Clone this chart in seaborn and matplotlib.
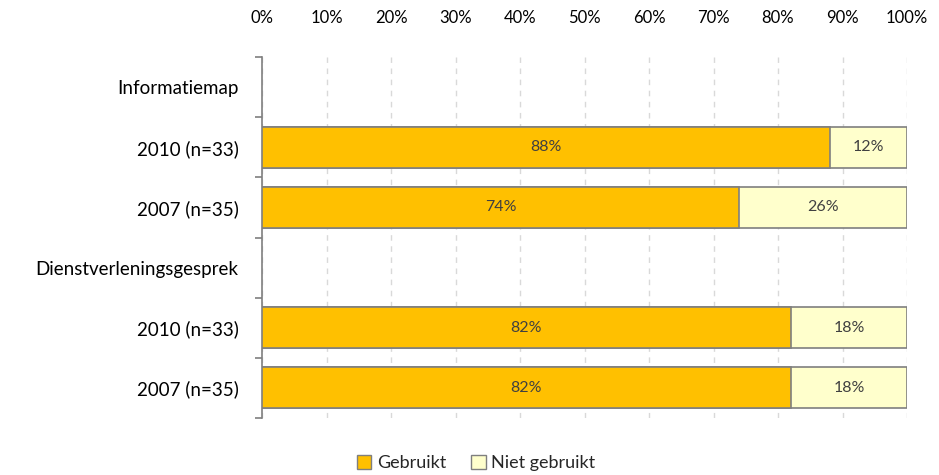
import matplotlib
matplotlib.use("Agg")
import matplotlib.pyplot as plt
import matplotlib.ticker as mticker
from matplotlib.patches import Patch
import numpy as np
import pandas as pd
import seaborn as sns

# data
row_labels = ["Informatiemap", "2010 (n=33)", "2007 (n=35)",
              "Dienstverleningsgesprek", "2010 (n=33)", "2007 (n=35)"]
gebruikt = [np.nan, 88, 74, np.nan, 82, 82]
niet_gebruikt = [np.nan, 12, 26, np.nan, 18, 18]
series_names = ["Gebruikt", "Niet gebruikt"]
x_ticks = [0, 10, 20, 30, 40, 50, 60, 70, 80, 90, 100]

colors = {"Gebruikt": "#FFC000", "Niet gebruikt": "#FFFFCC"}
edge = "#7f7f7f"

sns.set_theme(style="white")
plt.rcParams["font.family"] = ["Lato", "DejaVu Sans"]

# unique keys so repeated labels stay separate rows
keys = [f"r{i}" for i in range(len(row_labels))]
df = pd.DataFrame({"key": keys, "Gebruikt": gebruikt, "Niet gebruikt": niet_gebruikt})
df["total"] = df["Gebruikt"] + df["Niet gebruikt"]

fig = plt.figure(figsize=(9.39, 4.75), dpi=100)
ax = fig.add_axes([262 / 939, 1 - 418 / 475, (907 - 262) / 939, (418 - 57) / 475])

sns.barplot(data=df, y="key", x="total", order=keys, orient="h", color=colors["Niet gebruikt"],
            width=0.68, edgecolor=edge, linewidth=1.2, saturation=1, ax=ax, zorder=3)
sns.barplot(data=df, y="key", x="Gebruikt", order=keys, orient="h", color=colors["Gebruikt"],
            width=0.68, edgecolor=edge, linewidth=1.2, saturation=1, ax=ax, zorder=4)

# value labels
for i, (g, n) in enumerate(zip(gebruikt, niet_gebruikt)):
    if np.isnan(g):
        continue
    ax.text(g / 2, i, f"{g:.0f}%", ha="center", va="center", fontsize=11.5, color="#404040", zorder=5)
    ax.text(g + n / 2, i, f"{n:.0f}%", ha="center", va="center", fontsize=11.5, color="#404040", zorder=5)

ax.set_xlim(0, 100)
ax.set_ylim(len(keys) - 0.5, -0.5)
ax.xaxis.set_ticks_position("top")
ax.set_xticks(x_ticks)
ax.xaxis.set_major_formatter(mticker.FuncFormatter(lambda v, p: f"{v:.0f}%"))
ax.tick_params(axis="x", length=0, pad=22, labelsize=12, labelcolor="#000000")
ax.grid(axis="x", color="#d9d9d9", linestyle=(0, (4, 4)), linewidth=1, zorder=0)

ax.set_yticks(range(len(keys)))
ax.set_yticklabels(row_labels)
ax.set_yticks(np.arange(-0.5, len(keys)), minor=True)
ax.tick_params(axis="y", which="major", length=0, pad=17, labelsize=13.5, labelcolor="#000000")
ax.tick_params(axis="y", which="minor", length=5, width=1.2, color=edge, direction="out", left=True)
ax.set_xlabel("")
ax.set_ylabel("")

for s in ["top", "right", "bottom"]:
    ax.spines[s].set_visible(False)
ax.spines["left"].set_color(edge)
ax.spines["left"].set_linewidth(1.2)

handles = [Patch(facecolor=colors[s], edgecolor=edge, label=s) for s in series_names]
fig.legend(handles=handles, loc="center", bbox_to_anchor=(476 / 939, 1 - 463 / 475), ncol=2,
           frameon=False, fontsize=13, handlelength=0.8, handleheight=0.8,
           handletextpad=0.3, columnspacing=1.4)

fig.savefig("out.png", dpi=100)
